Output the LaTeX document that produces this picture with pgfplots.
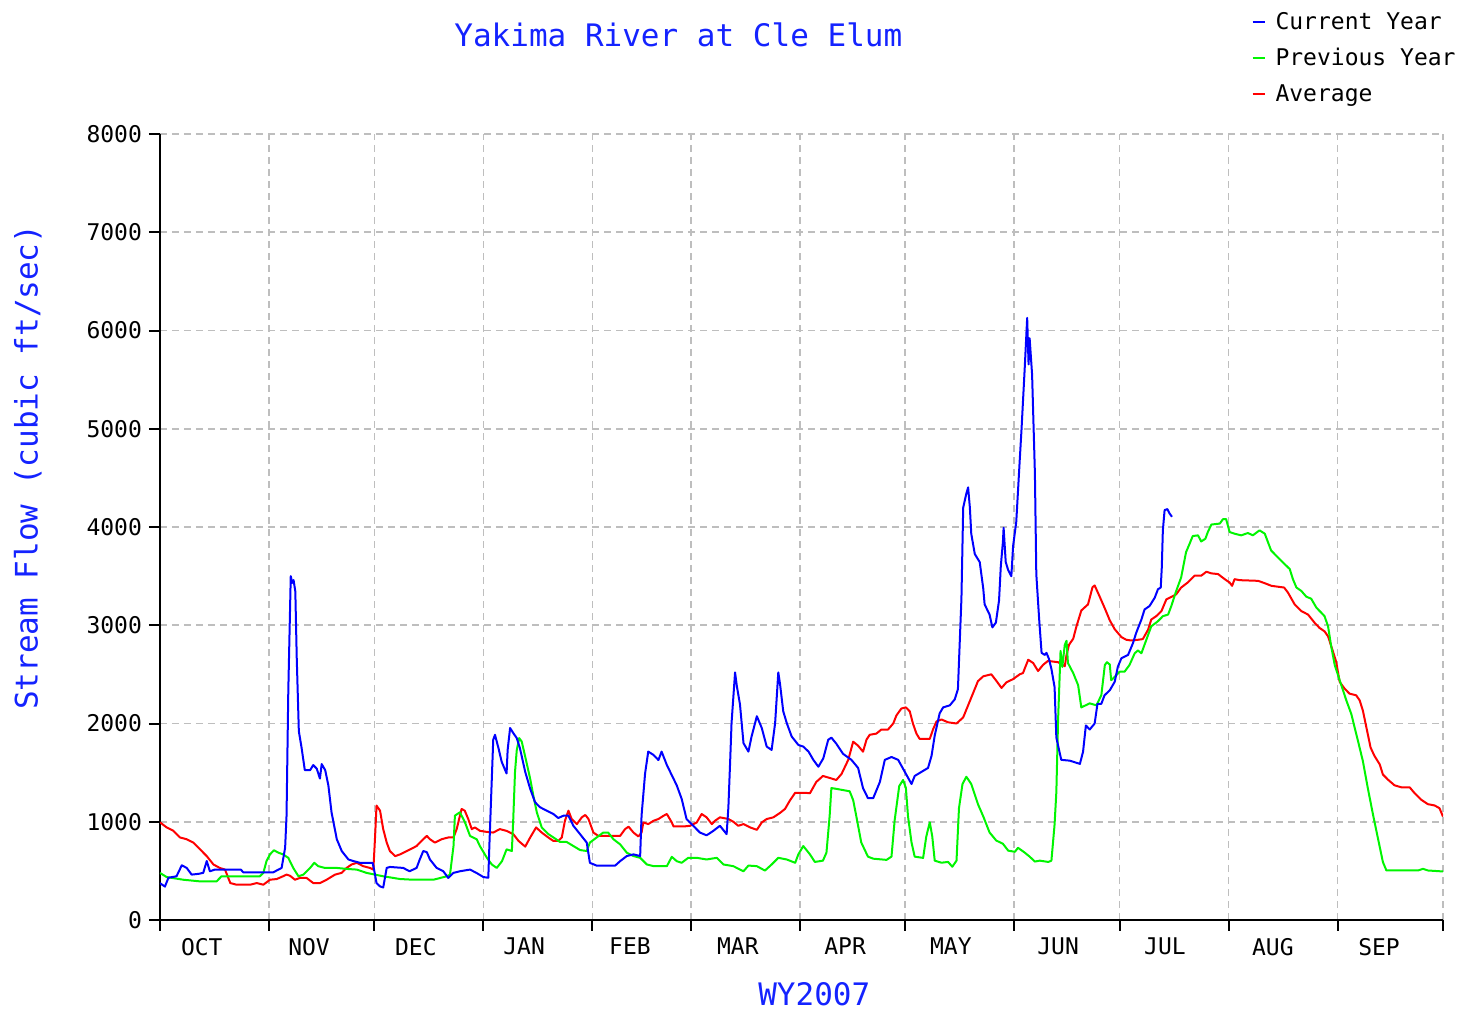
\documentclass[border=0pt]{standalone}
\usepackage{fontspec}
\setmainfont{DejaVu Sans Mono}
\usepackage{pgfplots}
\pgfplotsset{compat=1.18}
\definecolor{cblue}{RGB}{0,0,255}
\definecolor{cgreen}{RGB}{0,245,0}
\definecolor{cred}{RGB}{255,0,0}
\definecolor{tblue}{RGB}{20,35,255}
\definecolor{gridgray}{RGB}{190,190,190}
\newcommand{\smallf}{\fontsize{11.5}{13.8}\selectfont}
\newcommand{\bigf}{\fontsize{15.5}{18}\selectfont}
\newcommand{\lgline}[1]{\textcolor{#1}{\rule[0.28em]{6pt}{0.8pt}}\hspace{5.5pt}}
\begin{document}
\begin{tikzpicture}
\path[use as bounding box] (-80pt,-46.5pt) rectangle (654.5pt,460pt);
\begin{axis}[
  scale only axis,
  width=641.5pt, height=393pt,
  xmin=0, xmax=365, ymin=0, ymax=8000,
  enlargelimits=false,
  axis x line=bottom, axis y line=left,
  axis line style={-, line width=1pt, black},
  tick align=outside,
  major tick length=5.5pt,
  tick style={line width=1pt, black},
  xtick={0,31,61,92,123,151,182,212,243,273,304,335,365},
  xticklabels={},
  extra x ticks={11.9,42.4,72.8,103.6,133.7,164.4,194.9,225,255.5,285.9,316.6,346.8},
  extra x tick labels={OCT,NOV,DEC,JAN,FEB,MAR,APR,MAY,JUN,JUL,AUG,SEP},
  extra x tick style={grid=none, tick style={draw=none}},
  ytick={0,1000,2000,3000,4000,5000,6000,7000,8000},
  yticklabels={0,1000,2000,3000,4000,5000,6000,7000,8000},
  ticklabel style={font=\smallf, text=black},
  grid=major,
  major grid style={dash pattern=on 3.5pt off 2.5pt, color=gridgray, line width=0.8pt},
  title={Yakima River at Cle Elum},
  title style={at={(axis description cs:0.404,1.111)}, anchor=center, font=\bigf, text=tblue},
  xlabel={WY2007},
  xlabel style={at={(axis description cs:0.51,-0.095)}, anchor=center, font=\bigf, text=tblue},
  ylabel={Stream Flow (cubic ft/sec)},
  ylabel style={at={(axis description cs:-0.103,0.576)}, anchor=center, font=\bigf, text=tblue},
  reverse legend,
  legend style={at={(axis description cs:0.845,1.164)}, anchor=north west, draw=none, fill=none,
    font=\smallf, row sep=4pt,
    nodes={text height=9pt, text depth=3pt, inner sep=1pt}},
  legend cell align=left,
  legend image code/.code={},
  every axis plot/.append style={line width=1pt, line join=round},
]
% Average
\addplot[cred, mark=none] coordinates {
(0,994)(1.9,942)(3.8,908)(5.7,840)(7.6,822)(9.5,788)(11.4,719)(13.3,650)(15.2,565)(17,530)
(18.5,513)(20,376)(21.8,359)(25.6,359)(27.5,376)(29.4,359)(31.3,410)(33.2,417)(35,445)(36,462)
(37,450)(38.4,410)(39.8,428)(41.7,428)(43.6,376)(45.5,376)(47.4,410)(49.8,462)(51.7,480)(53.1,530)
(54.5,565)(56,582)(57.8,548)(59.7,530)(60.7,513)(61.2,856)(61.6,1165)(62.6,1113)(63.5,925)(64.5,788)
(65.4,702)(66.9,650)(68.3,668)(70.2,702)(72.1,736)(73,753)(74.4,805)(75.9,856)(76.8,822)(78.2,788)
(80.1,822)(82,840)(83.5,840)(84.4,925)(85.8,1130)(86.7,1113)(87.7,1027)(88.7,925)(89.6,942)(91,908)
(92.9,897)(94.8,890)(96.7,925)(98.6,907)(100.5,874)(102,805)(103.9,747)(105.3,839)(107,942)(108.6,890)
(110.5,839)(111.9,805)(113.3,805)(114.3,839)(115.2,1010)(116.2,1113)(117.1,1028)(118.6,976)(120,1045)(121,1069)
(121.9,1028)(123.3,890)(124.7,856)(130.9,856)(132.3,925)(133.3,950)(134.7,890)(136.1,850)(137,890)(137.5,993)
(138.9,976)(140.4,1010)(141.8,1028)(143.3,1062)(144.2,1079)(145.6,993)(146.1,952)(149,952)(150.8,959)(152.7,993)
(154.1,1079)(155.5,1045)(157,976)(157.9,1010)(159.3,1045)(161.7,1028)(163.1,1000)(164.5,959)(166,976)(167.9,942)
(169.8,918)(171.2,993)(172.6,1028)(174.5,1045)(176.4,1090)(177.8,1130)(179.2,1216)(180.7,1295)(183.5,1295)(184.9,1290)
(186.7,1405)(188.6,1466)(190.5,1446)(192.4,1425)(193.9,1487)(195.8,1630)(197.2,1815)(198.6,1774)(200,1713)(201,1836)
(201.9,1885)(203.8,1897)(205.2,1938)(207.1,1938)(208.6,2000)(209.5,2082)(210.9,2152)(212.2,2164)(213.3,2123)(214.2,2000)
(215.2,1897)(216.1,1844)(219,1844)(219.9,1938)(220.9,2021)(222.3,2041)(224.2,2012)(226.6,2000)(228.5,2062)(229.9,2185)
(231.3,2308)(232.7,2431)(234.2,2480)(236.5,2501)(238,2431)(239.4,2362)(240.8,2419)(242.7,2452)(244.6,2501)(245.5,2513)
(247,2649)(248.4,2616)(249.8,2534)(251.2,2596)(252.6,2637)(255.5,2624)(257.4,2583)(257.9,2698)(258.6,2801)(259.8,2863)
(260.7,2986)(262.1,3150)(264,3212)(265.3,3388)(265.9,3405)(267.3,3294)(268.8,3171)(270.2,3050)(271.6,2960)(273.5,2880)
(274.9,2852)(276.3,2845)(278.2,2852)(279.6,2859)(281.1,2955)(282,3058)(283.4,3092)(284.9,3144)(286.3,3264)(287.7,3288)
(289.1,3315)(290.5,3384)(292.4,3435)(294.3,3504)(296.2,3504)(297.7,3545)(299.1,3528)(301,3521)(302.9,3469)(304.3,3435)
(305,3401)(305.7,3469)(307.1,3459)(312.4,3452)(314.3,3428)(316.2,3401)(319.8,3384)(320.9,3332)(322.8,3212)(324.7,3144)
(326.6,3109)(328.5,3024)(329.9,2972)(331.3,2938)(332.3,2887)(333.7,2732)(334.6,2629)(335.6,2424)(337,2355)(338.4,2304)
(340.3,2287)(341.3,2235)(342.2,2132)(343.2,1961)(344.4,1755)(345.5,1670)(347,1584)(347.9,1481)(349.3,1430)(351.2,1371)
(353.1,1351)(355.5,1351)(356.9,1292)(358.8,1224)(360.7,1179)(362.6,1166)(364,1138)(365,1052)
};
\addlegendentry{\lgline{cred}Average}
% Previous year
\addplot[cgreen, mark=none] coordinates {
(0,479)(1.9,437)(6.6,410)(11.4,393)(16.1,393)(17.5,445)(28.4,445)(29.4,479)(30.3,600)(31.3,668)
(32.4,710)(33.7,685)(35,668)(36.5,633)(37.9,530)(39.4,445)(40.8,462)(42.7,530)(43.9,582)(45,548)
(46.9,530)(50.3,530)(53.1,520)(56,513)(58.8,479)(63.5,445)(68.3,417)(72,410)(77.8,410)(81.6,445)
(82.5,462)(83.5,753)(83.9,1062)(85.3,1096)(86.7,1000)(88.2,856)(90.1,822)(91,753)(93,633)(94.4,565)
(95.8,530)(97.3,599)(98.6,719)(100.1,702)(100.5,1028)(101,1508)(101.5,1731)(102.2,1851)(102.9,1817)(103.9,1662)
(105.3,1440)(106.2,1268)(107.2,1096)(108.6,942)(110.5,874)(112.4,829)(113.8,794)(115.7,794)(117.6,753)(119.5,712)
(121.4,702)(122.3,788)(124.2,839)(126.1,890)(127.5,890)(129,822)(130.9,770)(132.8,685)(134.7,651)(136.6,633)
(138.5,565)(140.4,548)(144.2,548)(145.6,643)(147,599)(148.4,582)(150.3,633)(152.7,633)(155.5,616)(158.4,633)
(160.3,565)(163.1,548)(166,496)(167.4,554)(169.8,548)(172.1,503)(174,565)(175.9,633)(178.3,616)(180.7,582)
(181.6,668)(183,753)(184.9,668)(186.3,591)(188.6,604)(189.6,686)(190.5,1055)(191,1343)(192.4,1335)(196.2,1310)
(197.2,1220)(198.1,1055)(199.5,789)(201.4,645)(202.9,624)(206.7,612)(208.1,645)(209,1014)(210.3,1363)(211.4,1425)
(212.2,1343)(212.8,1055)(213.8,789)(214.7,645)(217.1,632)(218,850)(219,994)(219.7,850)(220.4,604)(222.3,583)
(224.2,591)(225.4,542)(226.6,604)(227.3,1138)(228.3,1384)(229.4,1458)(230.8,1384)(232.7,1179)(234.2,1055)(236,891)
(237.9,809)(239.8,776)(241.3,706)(243.2,694)(244.1,735)(246,686)(247.4,645)(248.9,595)(250.3,604)(252.7,591)
(253.6,604)(254.5,973)(255,1302)(255.5,2041)(256.2,2739)(256.7,2575)(257.4,2801)(257.9,2842)(258.3,2616)(259.8,2513)
(261.2,2390)(262.1,2164)(264.5,2205)(266.4,2185)(267.8,2288)(268.8,2596)(269.4,2624)(270.2,2600)(270.6,2441)(271.6,2475)
(273,2527)(274.4,2527)(275.8,2595)(277.3,2715)(278.2,2743)(279.2,2715)(280.6,2852)(282,2989)(283.9,3041)(285.3,3092)
(286.8,3109)(287.7,3195)(289.1,3349)(290.5,3486)(291.9,3744)(292.9,3829)(293.8,3908)(295.3,3915)(296.2,3853)(297.4,3880)
(298.1,3949)(299.1,4025)(301.5,4035)(302.4,4080)(303.3,4080)(304.3,3949)(305.7,3932)(307.6,3915)(309.5,3939)(310.9,3915)
(312.8,3966)(314.3,3932)(315.2,3846)(316.1,3761)(318,3692)(319.9,3624)(321.4,3572)(322.3,3469)(323.3,3384)(324.7,3349)
(326.1,3291)(327.5,3270)(329,3178)(330.4,3127)(331.3,3092)(332.3,2989)(333.2,2784)(334.2,2595)(335.6,2441)(337.5,2235)
(338.9,2098)(340.8,1824)(342.2,1618)(343.6,1344)(345.1,1070)(346.5,830)(347.9,590)(348.9,504)(357.9,504)(359.3,521)
(360.7,504)(365,494)
};
\addlegendentry{\lgline{cgreen}Previous Year}
% Current year
\addplot[cblue, mark=none] coordinates {
(0,375)(1.4,340)(2.4,430)(4.7,445)(6.2,557)(7.6,530)(9,462)(11,470)(12.3,480)(13.3,600)
(14.2,496)(15.6,513)(23,513)(23.7,485)(32.2,485)(34.6,530)(35.6,736)(36,1062)(36.5,2330)(37.2,3500)
(37.6,3430)(38,3460)(38.5,3343)(38.9,2670)(39.5,1920)(40.3,1748)(41.2,1525)(42.7,1525)(43.6,1577)(44.6,1540)
(45.5,1440)(46,1587)(47,1525)(47.9,1370)(48.8,1096)(50.3,822)(51.7,702)(53.6,616)(55,600)(56.9,582)
(60.5,582)(60.9,513)(61.6,376)(62.6,342)(63.5,331)(64.5,530)(65.4,540)(69.2,530)(71,496)(73,530)
(73.9,616)(74.9,702)(75.9,691)(76.8,616)(78.7,530)(80.6,496)(82,428)(83.5,480)(85.3,496)(88.2,513)
(90,480)(92,437)(93.4,430)(93.7,753)(94.4,1440)(94.8,1834)(95.3,1885)(96.3,1748)(97.2,1611)(98.2,1525)
(98.6,1491)(98.9,1731)(99.6,1954)(100.5,1903)(101.5,1851)(102.4,1748)(103.9,1508)(105.3,1337)(106.7,1199)(108.1,1148)
(110,1113)(111.9,1079)(113.3,1038)(114.8,1062)(116.2,1062)(117.6,959)(119.5,874)(121.4,788)(122.3,582)(124.2,554)
(129.5,554)(130.9,599)(132.8,651)(134.7,668)(136.6,651)(137,1062)(138,1491)(138.9,1714)(140.4,1680)(141.8,1628)
(142.7,1714)(144.2,1577)(145.6,1474)(147,1371)(148.4,1234)(149.8,1028)(151.7,959)(153.6,890)(155.5,862)(157.4,907)
(159.3,959)(161.2,874)(161.7,1148)(162.2,1611)(162.6,2005)(163.6,2520)(164.1,2382)(165,2194)(166,1800)(167.4,1714)
(168.3,1868)(169.8,2074)(171.2,1954)(172.6,1765)(174,1731)(175,2005)(175.9,2520)(176.4,2400)(177.3,2125)(178.3,2005)
(179.7,1868)(181.6,1782)(183,1765)(184.5,1714)(185.9,1628)(187.3,1560)(188.7,1645)(190.1,1834)(191,1856)(192.4,1795)
(194.3,1692)(196.7,1630)(198.6,1548)(200,1343)(201.4,1240)(202.9,1240)(204.8,1405)(206.2,1630)(208.1,1659)(210,1630)
(211.9,1507)(213.8,1384)(214.7,1466)(216.6,1507)(218.5,1548)(219.5,1672)(220.4,1877)(221.8,2103)(222.8,2164)(224.7,2185)
(226.1,2246)(227,2349)(228,3273)(228.5,4197)(229.4,4341)(229.9,4403)(230.4,4197)(230.8,3930)(231.8,3725)(233.2,3643)
(234.2,3376)(234.6,3212)(236,3109)(236.8,2978)(237.8,3027)(238.7,3253)(239.2,3602)(239.8,3848)(240,3992)(240.6,3643)
(241.3,3561)(242.2,3499)(242.7,3807)(243.6,4054)(244.6,4690)(245.1,4998)(246,5614)(246.7,6128)(247.1,5655)(247.4,5922)
(248.1,5553)(248.9,4547)(249.3,3520)(250.1,3068)(250.8,2719)(251.7,2698)(252.2,2719)(252.9,2657)(253.6,2555)(254.5,2370)
(255,1856)(256.4,1630)(258.8,1622)(261.7,1589)(262.6,1713)(263.4,1980)(264.5,1939)(265.9,2000)(266.7,2200)(267.8,2200)
(268.7,2287)(270.2,2338)(271.6,2424)(272.5,2578)(273.5,2664)(275.4,2698)(276.8,2818)(277.7,2921)(279.2,3058)(280.1,3161)
(281.5,3195)(283,3281)(283.9,3366)(284.7,3384)(285,3589)(285.3,3966)(285.8,4172)(286.6,4182)(287.2,4138)(287.9,4104)
};
\addlegendentry{\lgline{cblue}Current Year}
\end{axis}
\end{tikzpicture}
\end{document}
